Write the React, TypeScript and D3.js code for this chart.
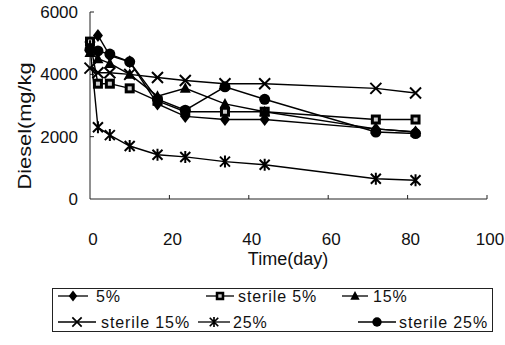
import { useEffect, useRef } from "react";
import * as d3 from "d3";

// sampling days
const days = [0, 2, 5, 10, 17, 24, 34, 44, 72, 82];

// diesel (mg/kg) per treatment
const fivePct = [5000, 5250, 4600, 4400, 3050, 2650, 2550, 2550, 2250, 2150];
const sterileFivePct = [5050, 3700, 3700, 3550, 3150, 2800, 2800, 2800, 2550, 2550];
const fifteenPct = [4700, 4500, 4350, 4000, 3300, 3550, 3050, 2800, 2250, 2150];
const sterileFifteenPct = [4200, 4050, 4050, 4000, 3900, 3800, 3700, 3700, 3550, 3400];
const twentyFivePct = [4900, 2300, 2050, 1700, 1420, 1350, 1200, 1100, 650, 600];
const sterileTwentyFivePct = [4800, 4750, 4650, 4400, 3200, 2850, 3600, 3200, 2150, 2100];

const xTicks = [0, 20, 40, 60, 80, 100];
const yTicks = [0, 2000, 4000, 6000];

type Shape = "diamond" | "square" | "triangle" | "x" | "asterisk" | "circle";

const series: { name: string; values: number[]; shape: Shape }[] = [
  { name: "5%", values: fivePct, shape: "diamond" },
  { name: "sterile 5%", values: sterileFivePct, shape: "square" },
  { name: "15%", values: fifteenPct, shape: "triangle" },
  { name: "sterile 15%", values: sterileFifteenPct, shape: "x" },
  { name: "25%", values: twentyFivePct, shape: "asterisk" },
  { name: "sterile 25%", values: sterileTwentyFivePct, shape: "circle" },
];

// legend layout: [lineStart, lineEnd, textX, row]
const legendPos: [number, number, number, number][] = [
  [58, 88, 96, 0],
  [206, 234, 238, 0],
  [342, 368, 373, 0],
  [58, 96, 101, 1],
  [198, 230, 233, 1],
  [358, 396, 399, 1],
];

const FONT = "'Liberation Sans', Arial, sans-serif";

function drawMarker(
  g: d3.Selection<SVGGElement, unknown, null, undefined>,
  shape: Shape,
  cx: number,
  cy: number,
  k = 1
) {
  const m = g
    .append("g")
    .attr("transform", `translate(${cx},${cy}) scale(${k})`);
  if (shape === "diamond") {
    m.append("path").attr("d", "M0,-6.5L5,0L0,6.5L-5,0Z").attr("fill", "#000");
  } else if (shape === "square") {
    m.append("rect")
      .attr("x", -5).attr("y", -5).attr("width", 10).attr("height", 10)
      .attr("fill", "#000");
    m.append("rect")
      .attr("x", -2).attr("y", -2).attr("width", 4).attr("height", 4)
      .attr("fill", "#ccc");
  } else if (shape === "triangle") {
    m.append("path").attr("d", "M0,-6L5.5,4.5L-5.5,4.5Z").attr("fill", "#000");
  } else if (shape === "x") {
    m.append("path")
      .attr("d", "M-5.5,-5.5L5.5,5.5M5.5,-5.5L-5.5,5.5")
      .attr("stroke", "#000").attr("stroke-width", 2);
  } else if (shape === "asterisk") {
    m.append("path")
      .attr("d", "M-5,-5L5,5M5,-5L-5,5M0,-6L0,6")
      .attr("stroke", "#000").attr("stroke-width", 2);
  } else {
    m.append("circle").attr("r", 5.5).attr("fill", "#000");
  }
}

export default function App() {
  const svgRef = useRef<SVGSVGElement>(null);

  useEffect(() => {
    if (!svgRef.current) return;
    const svg = d3.select(svgRef.current);
    svg.selectAll("*").remove();

    const x = d3.scaleLinear().domain([0, 100]).range([90, 487]);
    const y = d3.scaleLinear().domain([0, 6000]).range([199, 12]);

    const root = svg.append("g");

    // axes
    root.append("line")
      .attr("x1", x(0)).attr("x2", x(0)).attr("y1", y(0)).attr("y2", y(6000))
      .attr("stroke", "#222").attr("stroke-width", 1);
    root.append("line")
      .attr("x1", x(0)).attr("x2", x(100)).attr("y1", y(0)).attr("y2", y(0))
      .attr("stroke", "#222").attr("stroke-width", 1);

    root.selectAll("line.ytick")
      .data(yTicks.slice(1))
      .join("line")
      .attr("class", "ytick")
      .attr("x1", x(0)).attr("x2", x(0) + 4)
      .attr("y1", (d) => y(d)).attr("y2", (d) => y(d))
      .attr("stroke", "#222");

    root.selectAll("line.xtick")
      .data(xTicks.slice(1))
      .join("line")
      .attr("class", "xtick")
      .attr("x1", (d) => x(d)).attr("x2", (d) => x(d))
      .attr("y1", y(0)).attr("y2", y(0) - 4)
      .attr("stroke", "#222");

    root.selectAll("text.ylab")
      .data(yTicks)
      .join("text")
      .attr("class", "ylab")
      .attr("x", 78)
      .attr("y", (d) => y(d) + 6)
      .attr("text-anchor", "end")
      .attr("font-family", FONT)
      .attr("font-size", 17)
      .attr("fill", "#111")
      .text((d) => d);

    root.selectAll("text.xlab")
      .data(xTicks)
      .join("text")
      .attr("class", "xlab")
      .attr("x", (d) => x(d) + 3)
      .attr("y", 245)
      .attr("text-anchor", "middle")
      .attr("font-family", FONT)
      .attr("font-size", 17)
      .attr("fill", "#111")
      .text((d) => d);

    root.append("text")
      .attr("x", 288).attr("y", 265)
      .attr("text-anchor", "middle")
      .attr("font-family", FONT)
      .attr("font-size", 18)
      .attr("fill", "#111")
      .text("Time(day)");

    root.append("text")
      .attr("transform", "translate(31,126) rotate(-90)")
      .attr("text-anchor", "middle")
      .attr("font-family", FONT)
      .attr("font-size", 19)
      .attr("textLength", 127)
      .attr("lengthAdjust", "spacingAndGlyphs")
      .attr("fill", "#111")
      .text("Diesel(mg/kg");

    // lines
    const line = d3
      .line<number>()
      .x((_, i) => x(days[i]))
      .y((d) => y(d));

    series.forEach((s) => {
      root.append("path")
        .attr("d", line(s.values))
        .attr("fill", "none")
        .attr("stroke", "#000")
        .attr("stroke-width", 1.4);
    });

    series.forEach((s) => {
      s.values.forEach((v, i) => drawMarker(root, s.shape, x(days[i]), y(v)));
    });

    // legend
    root.append("rect")
      .attr("x", 52.5).attr("y", 288.5).attr("width", 440).attr("height", 43)
      .attr("fill", "none").attr("stroke", "#222").attr("stroke-width", 1);

    const rowY = [296, 322];
    series.forEach((s, i) => {
      const [l0, l1, tx, row] = legendPos[i];
      const cy = rowY[row];
      root.append("line")
        .attr("x1", l0).attr("x2", l1).attr("y1", cy).attr("y2", cy)
        .attr("stroke", "#000").attr("stroke-width", 1.3);
      drawMarker(root, s.shape, (l0 + l1) / 2, cy, 0.85);
      root.append("text")
        .attr("x", tx).attr("y", cy + 6)
        .attr("font-family", FONT)
        .attr("font-size", 16)
        .attr("letter-spacing", 0.9)
        .attr("fill", "#111")
        .text(s.name);
    });
  }, []);

  return (
    <svg
      ref={svgRef}
      width={505}
      height={345}
      style={{ position: "absolute", left: 0, top: 0, background: "#fff" }}
    />
  );
}
